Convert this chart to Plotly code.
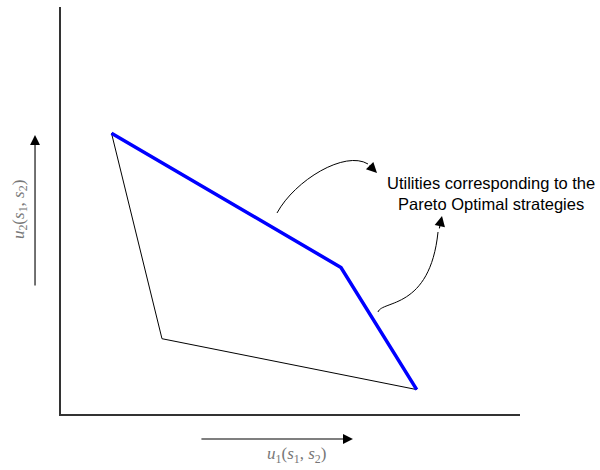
import plotly.graph_objects as go

# Vertices of the feasible utility region (u1, u2)
vertex_names = ["A", "B", "C", "D"]
u1_values = [1.1, 6.1, 7.75, 2.2]
u2_values = [6.9, 3.6, 0.6, 1.85]

# Pareto frontier runs A -> B -> C, the dominated edge runs A -> D -> C
pareto_path = ["A", "B", "C"]
lower_path = ["A", "D", "C"]

idx = {n: i for i, n in enumerate(vertex_names)}

fig = go.Figure()

fig.add_trace(go.Scatter(
    x=[u1_values[idx[n]] for n in lower_path],
    y=[u2_values[idx[n]] for n in lower_path],
    mode="lines", line=dict(color="black", width=1),
    hoverinfo="skip", showlegend=False,
))
fig.add_trace(go.Scatter(
    x=[u1_values[idx[n]] for n in pareto_path],
    y=[u2_values[idx[n]] for n in pareto_path],
    mode="lines", line=dict(color="#0000ff", width=3.5),
    hoverinfo="skip", showlegend=False,
))

# Curved pointer arrows toward the caption
curve_style = dict(color="black", width=1)
fig.add_shape(type="path", xref="x", yref="y",
              path="M 4.706 4.939 C 5.098 5.749, 6.187 6.486, 6.688 6.143",
              line=curve_style)
fig.add_shape(type="path", xref="x", yref="y",
              path="M 6.906 2.506 C 6.993 2.801, 8.039 2.555, 8.214 4.472",
              line=curve_style)

annotations = [
    # arrowheads at the ends of the curved pointers
    dict(x=6.885, y=5.921, xref="x", yref="y", ax=-9, ay=-9, text="",
         showarrow=True, arrowhead=2, arrowsize=1.9, arrowwidth=1.1, arrowcolor="black"),
    dict(x=8.301, y=4.865, xref="x", yref="y", ax=-3, ay=14, text="",
         showarrow=True, arrowhead=2, arrowsize=1.9, arrowwidth=1.1, arrowcolor="black"),
    # caption
    dict(x=9.368, y=5.43, xref="x", yref="y", showarrow=False,
         text="Utilities corresponding to the<br>Pareto Optimal strategies",
         font=dict(family="Liberation Sans, Arial", size=16.5, color="black"),
         align="center", xanchor="center", yanchor="middle"),
    # axis direction arrows
    dict(x=-0.0566, y=0.6855, xref="paper", yref="paper", ax=0, ay=152, text="",
         showarrow=True, arrowhead=2, arrowsize=1.8, arrowwidth=1.1, arrowcolor="black"),
    dict(x=0.636, y=-0.0614, xref="paper", yref="paper", ax=-153, ay=0, text="",
         showarrow=True, arrowhead=2, arrowsize=1.8, arrowwidth=1.1, arrowcolor="black"),
    # axis labels
    dict(x=-0.0893, y=0.501, xref="paper", yref="paper", showarrow=False,
         text="<i>u</i><sub>2</sub>(<i>s</i><sub>1</sub>, <i>s</i><sub>2</sub>)",
         textangle=-90, font=dict(family="Liberation Serif, serif", size=17, color="#777777"),
         xanchor="center", yanchor="middle"),
    dict(x=0.514, y=-0.1007, xref="paper", yref="paper", showarrow=False,
         text="<i>u</i><sub>1</sub>(<i>s</i><sub>1</sub>, <i>s</i><sub>2</sub>)",
         font=dict(family="Liberation Serif, serif", size=17, color="#777777"),
         xanchor="center", yanchor="middle"),
]

fig.update_layout(
    width=600, height=470,
    margin=dict(l=61, r=80, t=7, b=56),
    paper_bgcolor="white", plot_bgcolor="white",
    annotations=annotations,
    xaxis=dict(range=[0, 10], showgrid=False, zeroline=False, showticklabels=False,
               ticks="", showline=True, linecolor="#333333", linewidth=1.5),
    yaxis=dict(range=[0, 10], showgrid=False, zeroline=False, showticklabels=False,
               ticks="", showline=True, linecolor="#333333", linewidth=1.5),
)

fig.write_html("out.html")
